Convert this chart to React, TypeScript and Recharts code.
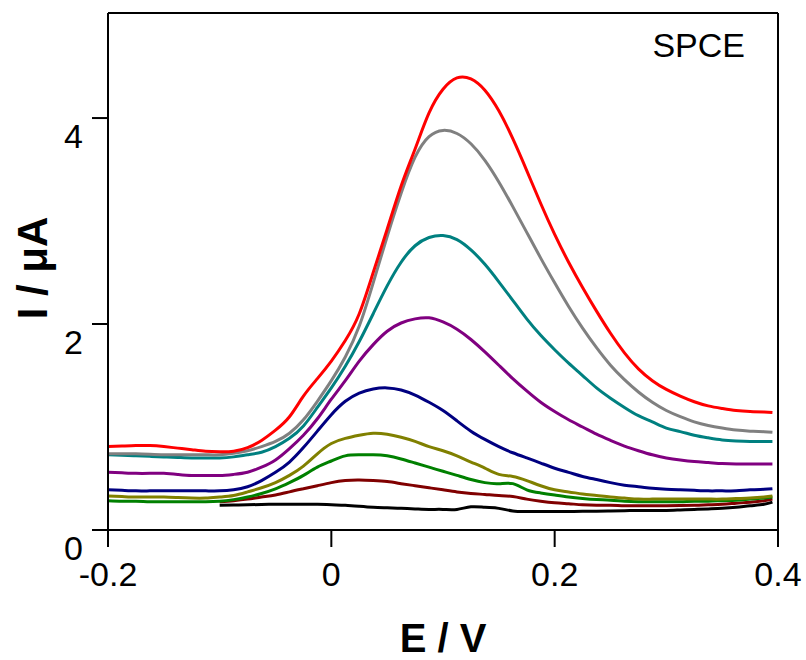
import { LineChart, Line, XAxis, YAxis, Label, ReferenceLine } from "recharts";

// potential E / V (shared by every scan), 12.5 mV steps
const E = [
  -0.2, -0.1875, -0.175, -0.1625, -0.15, -0.1375, -0.125, -0.1125, -0.1,
  -0.0875, -0.075, -0.0625, -0.05, -0.0375, -0.025, -0.0125, 0, 0.0125, 0.025,
  0.0375, 0.05, 0.0625, 0.075, 0.0875, 0.1, 0.1125, 0.125, 0.1375, 0.15,
  0.1625, 0.175, 0.1875, 0.2, 0.2125, 0.225, 0.2375, 0.25, 0.2625, 0.275,
  0.2875, 0.3, 0.3125, 0.325, 0.3375, 0.35, 0.3625, 0.375, 0.3875, 0.395,
];

// current I / µA, one array per scan
const red = [
  0.81, 0.815, 0.82, 0.82, 0.81, 0.795, 0.78, 0.765, 0.76,
  0.765, 0.8, 0.87, 0.97, 1.1, 1.3, 1.47, 1.64, 1.84, 2.1,
  2.5, 2.92, 3.34, 3.7, 4.05, 4.28, 4.39, 4.38, 4.27, 4.07,
  3.8, 3.49, 3.17, 2.87, 2.6, 2.355, 2.125, 1.91, 1.72, 1.565,
  1.45, 1.365, 1.3, 1.245, 1.205, 1.18, 1.16, 1.15, 1.145, 1.14,
];
const gray = [
  0.74, 0.74, 0.74, 0.735, 0.73, 0.73, 0.73, 0.73, 0.73,
  0.745, 0.77, 0.81, 0.86, 0.94, 1.07, 1.25, 1.45, 1.68, 1.98,
  2.4, 2.85, 3.27, 3.62, 3.82, 3.88, 3.85, 3.75, 3.59, 3.38,
  3.14, 2.89, 2.64, 2.4, 2.17, 1.96, 1.77, 1.6, 1.46, 1.34,
  1.24, 1.16, 1.1, 1.05, 1.015, 0.99, 0.97, 0.96, 0.955, 0.95,
];
const teal = [
  0.73, 0.725, 0.72, 0.715, 0.71, 0.705, 0.7, 0.7, 0.7,
  0.71, 0.73, 0.755, 0.81, 0.89, 1.01, 1.19, 1.38, 1.59, 1.83,
  2.1, 2.37, 2.6, 2.76, 2.84, 2.86, 2.82, 2.72, 2.58, 2.41,
  2.23, 2.05, 1.89, 1.75, 1.62, 1.5, 1.38, 1.28, 1.19, 1.11,
  1.05, 0.99, 0.955, 0.92, 0.895, 0.875, 0.865, 0.86, 0.86, 0.86,
];
const purple = [
  0.56, 0.555, 0.55, 0.55, 0.55, 0.54, 0.53, 0.53, 0.53,
  0.54, 0.56, 0.61, 0.68, 0.79, 0.92, 1.08, 1.27, 1.45, 1.64,
  1.8, 1.93, 2.01, 2.05, 2.06, 2.02, 1.95, 1.85, 1.73, 1.6,
  1.47, 1.35, 1.24, 1.15, 1.07, 1.0, 0.93, 0.87, 0.815, 0.77,
  0.73, 0.7, 0.68, 0.665, 0.655, 0.645, 0.64, 0.64, 0.64, 0.64,
];
const navy = [
  0.39, 0.385, 0.38, 0.38, 0.38, 0.38, 0.38, 0.38, 0.38,
  0.39, 0.42, 0.48, 0.56, 0.66, 0.8, 0.96, 1.12, 1.25, 1.33,
  1.37, 1.38, 1.36, 1.31, 1.24, 1.16, 1.06, 0.96, 0.88, 0.81,
  0.75, 0.7, 0.65, 0.6, 0.56, 0.52, 0.49, 0.46, 0.435, 0.42,
  0.405, 0.395, 0.39, 0.385, 0.38, 0.38, 0.38, 0.39, 0.395, 0.4,
];
const olive = [
  0.33, 0.325, 0.32, 0.32, 0.32, 0.315, 0.31, 0.31, 0.32,
  0.335, 0.37, 0.41, 0.46, 0.53, 0.62, 0.74, 0.84, 0.89, 0.92,
  0.94, 0.93, 0.9, 0.86, 0.81, 0.77, 0.72, 0.66, 0.6, 0.54,
  0.52, 0.48, 0.43, 0.39, 0.37, 0.35, 0.335, 0.32, 0.31, 0.3,
  0.3, 0.3, 0.3, 0.3, 0.3, 0.3, 0.305, 0.31, 0.32, 0.33,
];
const green = [
  0.285, 0.28, 0.28, 0.275, 0.275, 0.275, 0.275, 0.275, 0.28,
  0.295, 0.32, 0.355, 0.4, 0.46, 0.53, 0.61, 0.67, 0.72, 0.73,
  0.73, 0.72, 0.69, 0.65, 0.61, 0.57, 0.53, 0.49, 0.46, 0.45,
  0.45, 0.39, 0.36, 0.34, 0.32, 0.305, 0.295, 0.29, 0.28, 0.275,
  0.275, 0.275, 0.275, 0.28, 0.28, 0.285, 0.29, 0.3, 0.31, 0.32,
];
const maroon = [
  null, null, null, null, null, null, null, null, 0.275,
  0.285, 0.3, 0.32, 0.34, 0.37, 0.4, 0.43, 0.46, 0.48, 0.485,
  0.48, 0.47, 0.45, 0.43, 0.41, 0.39, 0.37, 0.355, 0.345, 0.335,
  0.325, 0.3, 0.28, 0.265, 0.255, 0.245, 0.24, 0.24, 0.235, 0.235,
  0.235, 0.235, 0.237, 0.24, 0.245, 0.25, 0.26, 0.27, 0.285, 0.3,
];
const black = [
  null, null, null, null, null, null, null, null, 0.24,
  0.242, 0.245, 0.248, 0.25, 0.25, 0.25, 0.25, 0.245, 0.24, 0.23,
  0.22, 0.215, 0.21, 0.205, 0.2, 0.2, 0.2, 0.225, 0.22, 0.21,
  0.185, 0.18, 0.18, 0.18, 0.18, 0.182, 0.183, 0.185, 0.187, 0.19,
  0.19, 0.19, 0.195, 0.2, 0.205, 0.21, 0.22, 0.235, 0.25, 0.27,
];

const xTicks = [-0.2, 0, 0.2, 0.4];
const xTickLabels = ["-0.2", "0", "0.2", "0.4"];
const yTicks = [0, 2, 4];
const yTickLabels = ["0", "2", "4"];

const series = [
  { key: "black", values: black, color: "#000000" },
  { key: "maroon", values: maroon, color: "#800000" },
  { key: "green", values: green, color: "#008000" },
  { key: "olive", values: olive, color: "#808000" },
  { key: "navy", values: navy, color: "#000080" },
  { key: "purple", values: purple, color: "#800080" },
  { key: "teal", values: teal, color: "#008080" },
  { key: "gray", values: gray, color: "#808080" },
  { key: "red", values: red, color: "#ff0000" },
];

const data = E.map((e, i) => {
  const row: Record<string, number | null> = { E: e };
  series.forEach((s) => (row[s.key] = s.values[i]));
  return row;
});

const FONT = "'Liberation Sans', Arial, sans-serif";
const Y_MAX = 5.02;

function XTick({ x, y, index }: any) {
  return (
    <text x={x} y={y} dy={37} textAnchor="middle" fontSize={34} fontFamily={FONT} fill="#000">
      {xTickLabels[index]}
    </text>
  );
}

function YTick({ x, y, index }: any) {
  return (
    <text x={x - 7} y={y} dy={30} textAnchor="end" fontSize={34} fontFamily={FONT} fill="#000">
      {yTickLabels[index]}
    </text>
  );
}

const axisLine = { stroke: "#000", strokeWidth: 2 };

export default function App() {
  return (
    <div style={{ position: "absolute", left: 0, top: 0, background: "#fff" }}>
      <LineChart width={806} height={660} data={data} margin={{ top: 13, right: 28, left: 0, bottom: 0 }}>
        <XAxis
          dataKey="E"
          type="number"
          domain={[-0.2, 0.4]}
          ticks={xTicks}
          height={130}
          tickSize={17}
          tick={<XTick />}
          axisLine={axisLine}
          tickLine={axisLine}
        >
          <Label
            content={() => (
              <text x={443} y={652} textAnchor="middle" fontSize={40} fontWeight="bold" fontFamily={FONT} fill="#000">
                E / V
              </text>
            )}
          />
        </XAxis>
        <YAxis
          type="number"
          domain={[0, Y_MAX]}
          ticks={yTicks}
          width={108}
          tickSize={16}
          tick={<YTick />}
          axisLine={axisLine}
          tickLine={axisLine}
        >
          <Label
            content={() => (
              <text
                x={32}
                y={268}
                transform="rotate(-90 32 268)"
                textAnchor="middle"
                dominantBaseline="central"
                fontSize={42}
                fontWeight="bold"
                fontFamily={FONT}
                fill="#000"
              >
                I / μA
              </text>
            )}
          />
        </YAxis>
        <ReferenceLine
          y={Y_MAX}
          stroke="#000"
          strokeWidth={2}
          label={() => (
            <text x={745} y={57} textAnchor="end" fontSize={34} fontFamily={FONT} fill="#000">
              SPCE
            </text>
          )}
        />
        <ReferenceLine x={0.4} stroke="#000" strokeWidth={2} />
        {series.map((s) => (
          <Line
            key={s.key}
            dataKey={s.key}
            stroke={s.color}
            strokeWidth={3}
            dot={false}
            type="natural"
            isAnimationActive={false}
          />
        ))}
      </LineChart>
    </div>
  );
}
